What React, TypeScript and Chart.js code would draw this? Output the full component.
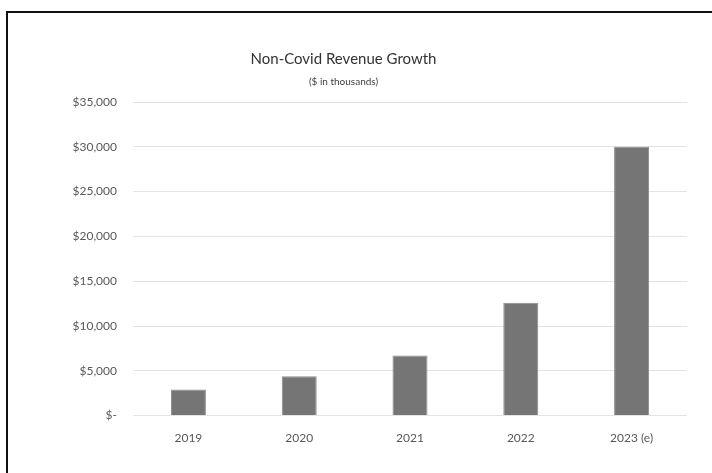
import React, { useEffect, useRef } from "react";
import { Chart, registerables } from "chart.js";

Chart.register(...registerables);

const categories = ["2019", "2020", "2021", "2022", "2023 (e)"];
const revenue = [2900, 4400, 6700, 12600, 30000];
const yMin = 0;
const yMax = 35000;
const yStep = 5000;
const titleText = "Non-Covid Revenue Growth";
const subtitleText = "($ in thousands)";

const FONT = "Lato, 'Open Sans', sans-serif";

export default function App() {
  const ref = useRef<HTMLCanvasElement | null>(null);

  useEffect(() => {
    if (!ref.current) return;
    const chart = new Chart(ref.current, {
      type: "bar",
      data: {
        labels: categories,
        datasets: [
          {
            data: revenue,
            backgroundColor: "#757575",
            borderColor: "#8a8a8a",
            borderWidth: 1,
            barPercentage: 0.316,
            categoryPercentage: 1,
          },
        ],
      },
      options: {
        responsive: false,
        animation: false,
        maintainAspectRatio: false,
        layout: { padding: { left: 0, right: 25, top: 0, bottom: 13 } },
        plugins: {
          legend: { display: false },
          tooltip: { enabled: false },
          title: {
            display: true,
            text: titleText,
            color: "#333333",
            font: { family: FONT, size: 15, weight: "normal", lineHeight: 1.2 },
            padding: { top: 50, bottom: 8 },
          },
          subtitle: {
            display: true,
            text: subtitleText,
            color: "#404040",
            font: { family: FONT, size: 10, weight: "normal", lineHeight: 1.2 },
            padding: { top: 0, bottom: 14 },
          },
        },
        scales: {
          x: {
            grid: { display: false, drawTicks: false },
            border: { display: false },
            ticks: {
              color: "#595959",
              font: { family: FONT, size: 12 },
              padding: 15,
              maxRotation: 0,
            },
          },
          y: {
            min: yMin,
            max: yMax,
            afterFit: (scale: any) => {
              scale.width = 133;
            },
            grid: { color: "#e3e3e3", lineWidth: 1, drawTicks: false },
            border: { display: false },
            ticks: {
              stepSize: yStep,
              color: "#595959",
              font: { family: FONT, size: 12 },
              padding: 16,
              callback: (v: any) =>
                Number(v) === 0 ? "$-" : "$" + Number(v).toLocaleString("en-US"),
            },
          },
        },
      },
    });
    return () => chart.destroy();
  }, []);

  return (
    <div style={{ position: "fixed", left: 0, top: 0, width: 712, height: 473, background: "#fff" }}>
      <div
        style={{
          position: "absolute",
          left: 6,
          top: 11,
          width: 720,
          height: 480,
          borderLeft: "2px solid #111",
          borderTop: "2px solid #111",
        }}
      />
      <canvas
        ref={ref}
        width={712}
        height={473}
        style={{ position: "absolute", left: 0, top: 0, width: 712, height: 473 }}
      />
    </div>
  );
}
